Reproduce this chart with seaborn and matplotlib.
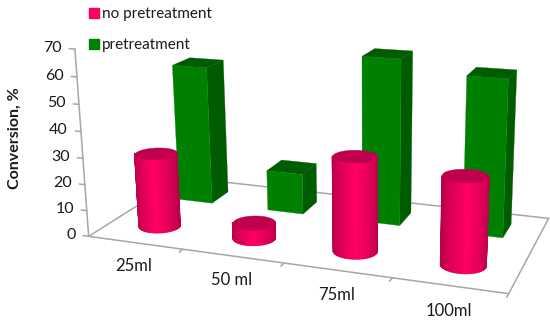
import numpy as np
import matplotlib
matplotlib.use("Agg")
import matplotlib.pyplot as plt
from matplotlib.patches import Patch
from mpl_toolkits.mplot3d import proj3d
from mpl_toolkits.mplot3d.art3d import Poly3DCollection
import seaborn as sns

# === Dados ===
categories = ["25ml", "50 ml", "75ml", "100ml"]
no_pretreatment = [28.5, 6, 35, 32]
pretreatment = [55, 16, 63.5, 59]
z_ticks = [0, 10, 20, 30, 40, 50, 60, 70]

PINK = "#ff0062"
PINK_DARK = "#c0004e"
PINK_EDGE = "#b00048"
GREEN = "#008000"
GREEN_DARK = "#005c00"
AXIS = "#a6a6a6"
TEXT = "#1a1a1a"

sns.set_theme(style="white")
plt.rcParams["font.family"] = ["Lato", "DejaVu Sans"]

ELEV, AZIM, ROLL = 16, -69, 0.7
S = 495
cx, cy = 321, 183

fig = plt.figure(figsize=(5.5, 3.2), dpi=100)
rect = [(cx - 0.5135 * S) / 550, (cy - 0.5135 * S) / 320, S / 550, S / 320]
ax = fig.add_axes(rect, projection="3d", computed_zorder=False)
ax.patch.set_alpha(0)
ax.set_axis_off()
ax.set_xlim(0.5, 4.5)
ax.set_ylim(-0.5, 1.5)
ax.set_zlim(0, 70)
ax.set_box_aspect((422, 200, 190))
ax.set_proj_type("persp", focal_length=0.42)
ax.view_init(elev=ELEV, azim=AZIM, roll=ROLL)


def label(x, y, z, s, **kw):
    # texto em 2D na posicao projetada
    X, Y, _ = proj3d.proj_transform(x, y, z, ax.get_proj())
    ax.text2D(X, Y, s, transform=ax.transData, color=TEXT, va="center", clip_on=False, **kw)


def bar_box(x, y, h, zorder, w=0.19, d=0.2):
    x0, x1, y0, y1 = x - w, x + w, y - d, y + d
    faces = [
        [(x0, y0, 0), (x1, y0, 0), (x1, y0, h), (x0, y0, h)],
        [(x1, y0, 0), (x1, y1, 0), (x1, y1, h), (x1, y0, h)],
        [(x0, y0, h), (x1, y0, h), (x1, y1, h), (x0, y1, h)],
    ]
    cols = [GREEN, GREEN_DARK, GREEN_DARK]
    ax.add_collection3d(Poly3DCollection(faces, facecolors=cols, edgecolors=cols,
                                         linewidths=0.2, zorder=zorder))


def cylinder(x, y, h, zorder, rx=0.2, ry=0.2):
    n = 40
    angles = np.radians(np.linspace(AZIM - 90, AZIM + 90, n + 1))
    px = x + rx * np.cos(angles)
    py = y + ry * np.sin(angles)
    half = sns.blend_palette([PINK_EDGE, PINK, PINK_EDGE], n)
    strips = []
    for i in range(n):
        strips.append([(px[i], py[i], 0), (px[i + 1], py[i + 1], 0),
                       (px[i + 1], py[i + 1], h), (px[i], py[i], h)])
    ax.add_collection3d(Poly3DCollection(strips, facecolors=half, edgecolors=half,
                                         linewidths=0.9, zorder=zorder))
    t = np.radians(np.linspace(0, 360, 61))
    disc = list(zip(x + rx * np.cos(t), y + ry * np.sin(t), np.full(t.shape, h)))
    ax.add_collection3d(Poly3DCollection([disc], facecolors=PINK_DARK, edgecolors=PINK_DARK,
                                         linewidths=0.3, zorder=zorder + 0.5))


# === Piso e eixos ===
floor_x = [0.5, 4.5, 4.5, 0.5, 0.5]
floor_y = [-0.5, -0.5, 1.5, 1.5, -0.5]
ax.plot(floor_x, floor_y, [0] * 5, color=AXIS, lw=1.1, zorder=1)
ax.plot([0.5, 0.5], [-0.5, -0.5], [0, 70], color=AXIS, lw=1.1, zorder=1)
for z in z_ticks:
    ax.plot([0.5, 0.44], [-0.5, -0.5], [z, z], color=AXIS, lw=1.1, zorder=1)
    label(0.36, -0.5, z, str(z), ha="right", fontsize=11.5)
for x in [1.5, 2.5, 3.5, 4.5]:
    ax.plot([x, x], [-0.5, -0.58], [0, 0], color=AXIS, lw=1.1, zorder=1)
for i, lab in enumerate(categories):
    label((i + 1) * 0.95 + 0.32, -1.02, 0, lab, ha="center", fontsize=12)

# === Barras ===
for i, v in enumerate(pretreatment):
    bar_box(i + 1, 1, v, zorder=10 + i)
for i, v in enumerate(no_pretreatment):
    cylinder(i + 1, 0, v, zorder=20 + i)

# === Legenda e rotulo ===
handles = [Patch(color=PINK, label="no pretreatment"), Patch(color=GREEN, label="pretreatment")]
fig.legend(handles=handles, loc="upper left", bbox_to_anchor=(77 / 550, 1.015), frameon=False,
           fontsize=11, handlelength=0.65, handleheight=0.65, handletextpad=0.2,
           labelspacing=1.1, labelcolor=TEXT, borderpad=0.3)
fig.text(15 / 550, 1 - 138 / 320, "Conversion, %", rotation=90, ha="center", va="center",
         fontsize=11.5, fontweight="bold", color=TEXT)

fig.savefig("out.png", dpi=100)
